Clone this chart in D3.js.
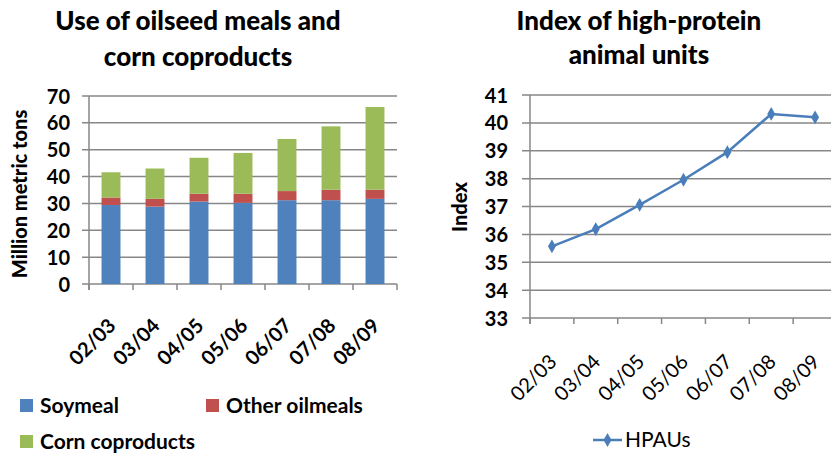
<!DOCTYPE html>
<html lang="en">
<head>
    <meta charset="UTF-8">
    <title>Oilseed meals and HPAU index</title>
    <script src="https://cdn.jsdelivr.net/npm/d3@7/dist/d3.min.js"></script>
    <style>
        body {
            margin: 0;
            background: #fff;
        }
        svg text {
            font-family: Lato, "Open Sans", sans-serif;
            fill: #000;
        }
        .title { font-size: 26px; font-weight: 900; }
        .tick-label { font-size: 20px; font-weight: 700; }
        .axis-title { font-size: 20px; font-weight: 900; }
        .cat-bold { font-size: 20px; font-weight: 700; }
        .cat-label { font-size: 20px; font-weight: 400; }
        .legend-text { font-size: 21px; font-weight: 700; }
        .legend-plain { font-size: 21px; font-weight: 400; }
    </style>
</head>
<body>
    <svg id="chart" width="831" height="456"></svg>
    <script>
        // Marketing years shared by both panels
        const seasons = ['02/03', '03/04', '04/05', '05/06', '06/07', '07/08', '08/09'];

        // Left panel: million metric tons
        const soymeal = [29.4, 28.8, 30.7, 30.2, 31.2, 31.2, 31.7];
        const otherOilmeals = [2.8, 2.9, 2.9, 3.4, 3.4, 3.9, 3.4];
        const cornCoproducts = [9.4, 11.3, 13.4, 15.2, 19.4, 23.6, 30.8];
        const tonsTicks = [0, 10, 20, 30, 40, 50, 60, 70];

        // Right panel: index of high-protein animal units
        const hpau = [35.57, 36.19, 37.06, 37.96, 38.95, 40.32, 40.2];
        const indexTicks = [33, 34, 35, 36, 37, 38, 39, 40, 41];

        const gridColor = '#878787';
        const svg = d3.select('#chart');

        // ---------- left: stacked bars ----------
        const stackKeys = ['soy', 'other', 'corn'];
        const stackColors = { soy: '#4f81bd', other: '#c0504d', corn: '#9bbb59' };
        const table = seasons.map((s, i) => ({
            season: s, soy: soymeal[i], other: otherOilmeals[i], corn: cornCoproducts[i]
        }));

        const x1 = d3.scaleBand().domain(seasons).range([89, 397]);
        const y1 = d3.scaleLinear().domain([0, 70]).range([284, 96]);
        const left = svg.append('g');

        // gridlines (they poke out left of the axis as tick marks)
        left.selectAll('.grid').data(tonsTicks).enter().append('line')
            .attr('x1', 82).attr('x2', 397)
            .attr('y1', d => y1(d)).attr('y2', d => y1(d))
            .attr('stroke', gridColor).attr('stroke-width', 1.5);

        const stacked = d3.stack().keys(stackKeys)(table);
        const barW = x1.bandwidth() * 0.43;
        stacked.forEach(layer => {
            left.selectAll(null).data(layer).enter().append('rect')
                .attr('x', d => x1(d.data.season) + (x1.bandwidth() - barW) / 2)
                .attr('width', barW)
                .attr('y', d => y1(d[1]))
                .attr('height', d => y1(d[0]) - y1(d[1]))
                .attr('fill', stackColors[layer.key]);
        });

        // axes lines + category ticks
        left.append('line').attr('x1', 89).attr('x2', 89).attr('y1', 96).attr('y2', 290)
            .attr('stroke', gridColor).attr('stroke-width', 1.5);
        left.selectAll('.xt').data(seasons.concat(['end'])).enter().append('line')
            .attr('x1', (d, i) => 89 + i * x1.bandwidth()).attr('x2', (d, i) => 89 + i * x1.bandwidth())
            .attr('y1', 284).attr('y2', 290)
            .attr('stroke', gridColor).attr('stroke-width', 1.5);

        const yAxis1 = left.append('g').attr('transform', 'translate(82,0)')
            .call(d3.axisLeft(y1).tickValues(tonsTicks).tickSize(0).tickPadding(12));
        yAxis1.select('.domain').remove();
        yAxis1.selectAll('text').attr('class', 'tick-label').attr('dy', '0.35em');

        left.selectAll('.cat').data(seasons).enter().append('text')
            .attr('class', 'cat-bold')
            .attr('text-anchor', 'end')
            .attr('transform', d => `translate(${x1(d) + x1.bandwidth() / 2 + 6},${y1(0) + 43}) rotate(-45)`)
            .text(d => d);

        left.append('text').attr('class', 'axis-title')
            .attr('text-anchor', 'middle')
            .attr('transform', 'translate(27,194) rotate(-90)')
            .text('Million metric tons');

        left.append('text').attr('class', 'title').attr('text-anchor', 'middle')
            .attr('x', 198).attr('y', 30).text('Use of oilseed meals and');
        left.append('text').attr('class', 'title').attr('text-anchor', 'middle')
            .attr('x', 198).attr('y', 66).text('corn coproducts');

        // legend
        const legendItems = [
            { key: 'soy', label: 'Soymeal', x: 20, y: 399 },
            { key: 'other', label: 'Other oilmeals', x: 206, y: 399 },
            { key: 'corn', label: 'Corn coproducts', x: 20, y: 435 }
        ];
        const lg = left.selectAll('.lg').data(legendItems).enter().append('g')
            .attr('transform', d => `translate(${d.x},${d.y})`);
        lg.append('rect').attr('width', 13).attr('height', 13).attr('fill', d => stackColors[d.key]);
        lg.append('text').attr('class', 'legend-text').attr('x', 20).attr('y', 7).attr('dy', '0.35em')
            .text(d => d.label);

        // ---------- right: line chart ----------
        const x2 = d3.scaleBand().domain(seasons).range([530, 837]);
        const y2 = d3.scaleLinear().domain([33, 41]).range([318, 95]);
        const right = svg.append('g');

        right.selectAll('.grid').data(indexTicks).enter().append('line')
            .attr('x1', 522).attr('x2', 837)
            .attr('y1', d => y2(d)).attr('y2', d => y2(d))
            .attr('stroke', gridColor).attr('stroke-width', 1.5);
        right.append('line').attr('x1', 530).attr('x2', 530).attr('y1', 95).attr('y2', 324)
            .attr('stroke', gridColor).attr('stroke-width', 1.5);
        right.selectAll('.xt').data(seasons).enter().append('line')
            .attr('x1', d => x2(d)).attr('x2', d => x2(d))
            .attr('y1', 318).attr('y2', 324)
            .attr('stroke', gridColor).attr('stroke-width', 1.5);

        const yAxis2 = right.append('g').attr('transform', 'translate(522,0)')
            .call(d3.axisLeft(y2).tickValues(indexTicks).tickSize(0).tickPadding(14));
        yAxis2.select('.domain').remove();
        yAxis2.selectAll('text').attr('class', 'tick-label').attr('dy', '0.35em');

        const cx = d => x2(d) + x2.bandwidth() / 2;
        const line = d3.line().x((d, i) => cx(seasons[i])).y(d => y2(d));
        right.append('path').datum(hpau)
            .attr('d', line).attr('fill', 'none')
            .attr('stroke', '#4a7ebb').attr('stroke-width', 2.5);
        const diamond = d3.symbol().type(d3.symbolDiamond).size(55);
        right.selectAll('.pt').data(hpau).enter().append('path')
            .attr('d', diamond)
            .attr('transform', (d, i) => `translate(${cx(seasons[i])},${y2(d)})`)
            .attr('fill', '#4a7ebb');

        right.selectAll('.cat').data(seasons).enter().append('text')
            .attr('class', 'cat-label')
            .attr('text-anchor', 'end')
            .attr('transform', d => `translate(${cx(d) + 6},${y2(33) + 45}) rotate(-45)`)
            .text(d => d);

        right.append('text').attr('class', 'axis-title')
            .attr('text-anchor', 'middle')
            .attr('transform', 'translate(467,207) rotate(-90)')
            .text('Index');

        right.append('text').attr('class', 'title').attr('text-anchor', 'middle')
            .attr('x', 639).attr('y', 30).text('Index of high-protein');
        right.append('text').attr('class', 'title').attr('text-anchor', 'middle')
            .attr('x', 639).attr('y', 64).text('animal units');

        const lr = right.append('g').attr('transform', 'translate(593,440)');
        lr.append('line').attr('x1', 0).attr('x2', 29).attr('stroke', '#4a7ebb').attr('stroke-width', 2.5);
        lr.append('path').attr('d', diamond).attr('transform', 'translate(14.5,0)').attr('fill', '#4a7ebb');
        lr.append('text').attr('class', 'legend-plain').attr('x', 32).attr('dy', '0.35em').text('HPAUs');
    </script>
</body>
</html>
